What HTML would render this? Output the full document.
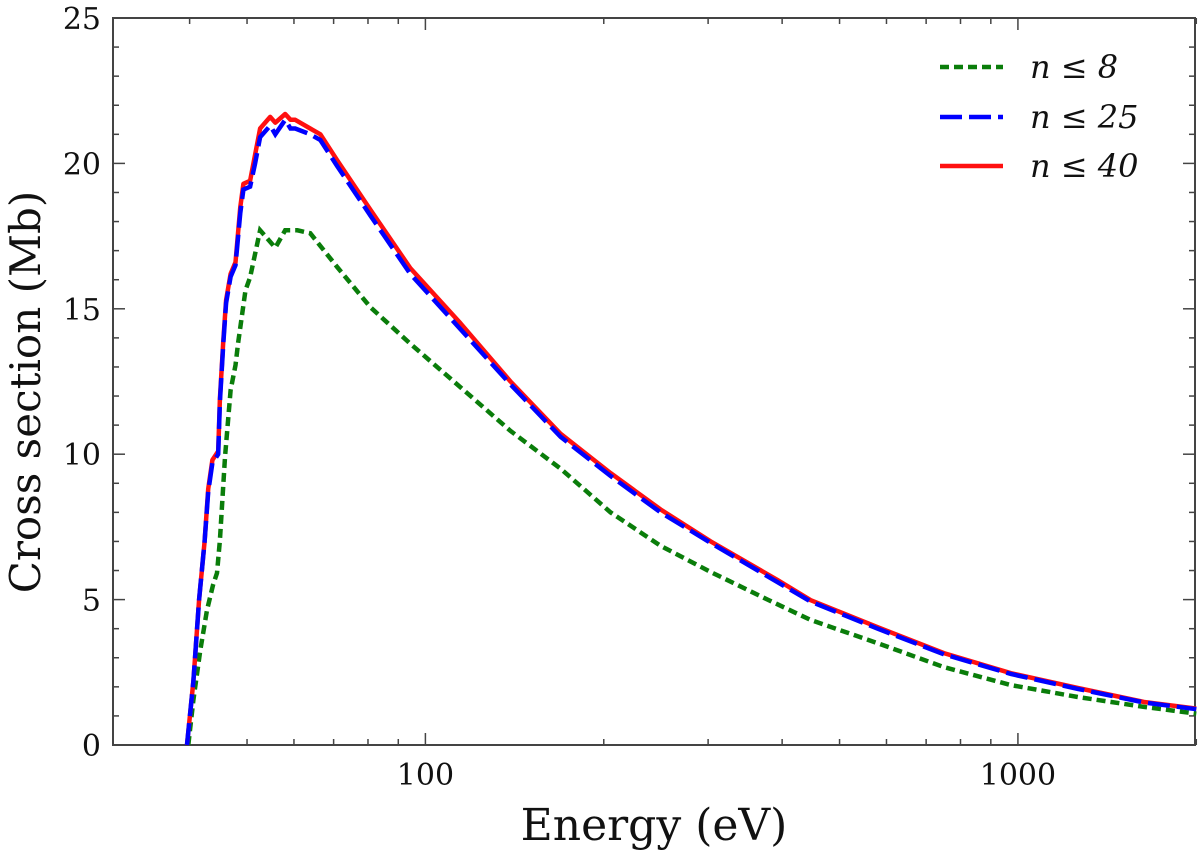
<!DOCTYPE html>
<html><head><meta charset="utf-8"><style>
html,body{margin:0;padding:0;background:#fff;}
svg text{font-family:"DejaVu Serif","Liberation Serif",serif;fill:#111;}
</style></head><body>
<svg id="chart" width="1200" height="852" viewBox="0 0 1200 852" xmlns="http://www.w3.org/2000/svg">
<g id="axes"></g><g id="series"></g><g id="legend"></g>
</svg>
<script>
const energyRed=[39.6,40.6,41.5,42.4,43.0,43.7,44.7,45.0,45.6,46.1,46.9,47.8,48.7,49.3,50.6,51.6,52.6,54.7,55.8,58.0,59.2,60.3,63.9,66.5,71.0,80.8,94.3,114.6,139.2,169.1,205.4,249.4,303,393,447,580,750,973,1262,1633,2000];
const sigma40=[0,2.2,5.0,7.0,8.8,9.8,10.1,11.9,13.9,15.3,16.2,16.6,18.5,19.3,19.4,20.3,21.2,21.6,21.4,21.7,21.5,21.5,21.2,21.0,20.1,18.4,16.4,14.5,12.5,10.7,9.35,8.1,7.0,5.67,4.98,4.05,3.16,2.47,1.96,1.48,1.25];
const sigma25=[0,2.2,5.0,7.0,8.7,9.7,10.0,11.8,13.8,15.2,16.1,16.5,18.3,19.1,19.2,20.0,20.9,21.3,21.0,21.5,21.2,21.2,21.0,20.8,19.9,18.2,16.2,14.3,12.4,10.6,9.25,8.0,6.95,5.6,4.93,4.0,3.12,2.44,1.93,1.46,1.23];
const energyGreen=[39.8,40.6,41.7,42.8,43.8,44.5,45.0,45.9,46.9,47.8,48.3,49.7,50.6,52.6,55.8,58.0,60.8,63.9,71.0,80.8,94.3,114.6,139.2,169.1,205.4,249.4,303,378,447,580,750,973,1262,1633,2000];
const sigma8=[0,1.55,3.26,4.64,5.5,5.91,7.04,9.9,12.2,13.06,13.82,15.64,16.08,17.7,17.1,17.7,17.7,17.6,16.43,15.05,13.8,12.3,10.8,9.5,8.0,6.85,5.95,5.0,4.3,3.5,2.68,2.06,1.65,1.31,1.08];
const yTicks=[0,5,10,15,20,25];
const xTickLabels=[100,1000];
const xMinorTicks=[40,50,60,70,80,90,200,300,400,500,600,700,800,900,2000];

const L=113,R=1195,T=18,B=745;
const X0=Math.log10(29.7),X1=Math.log10(1990);
function sx(e){return L+(Math.log10(e)-X0)/(X1-X0)*(R-L);}
function sy(v){return B-v/25*(B-T);}
const NS="http://www.w3.org/2000/svg";
function mk(tag,attrs,parent){const el=document.createElementNS(NS,tag);for(const k in attrs)el.setAttribute(k,attrs[k]);parent.appendChild(el);return el;}
const axes=document.getElementById('axes'),series=document.getElementById('series'),legend=document.getElementById('legend');

const frame=mk('rect',{x:L,y:T,width:R-L,height:B-T,fill:'none',stroke:'#444','stroke-width':2},axes);



for(let v=0;v<=25;v++){
  const len=(v%5===0)?12:6;
  mk('line',{x1:L,x2:L+len,y1:sy(v),y2:sy(v),stroke:'#444','stroke-width':1.5},axes);
  mk('line',{x1:R,x2:R-len,y1:sy(v),y2:sy(v),stroke:'#444','stroke-width':1.5},axes);
}
yTicks.forEach(v=>{
  const t=mk('text',{x:L-12,y:sy(v)+11,'text-anchor':'end','font-size':30},axes);
  t.textContent=v;
  
  
});
xMinorTicks.forEach(e=>{
  mk('line',{x1:sx(e),x2:sx(e),y1:B,y2:B-6,stroke:'#444','stroke-width':1.5},axes);
  mk('line',{x1:sx(e),x2:sx(e),y1:T,y2:T+6,stroke:'#444','stroke-width':1.5},axes);
});
xTickLabels.forEach(e=>{
  mk('line',{x1:sx(e),x2:sx(e),y1:B,y2:B-12,stroke:'#444','stroke-width':1.5},axes);
  mk('line',{x1:sx(e),x2:sx(e),y1:T,y2:T+12,stroke:'#444','stroke-width':1.5},axes);
  const t=mk('text',{x:sx(e),y:B+40,'text-anchor':'middle','font-size':30},axes);
  t.textContent=e;
  
  
});
const xt=mk('text',{x:654,y:840,'text-anchor':'middle','font-size':44},axes);
xt.textContent='Energy (eV)';


const yt=mk('text',{x:0,y:0,'text-anchor':'middle','font-size':42,transform:'translate(40,392) rotate(-90)'},axes);
yt.textContent='Cross section (Mb)';



function pts(E,S){return E.map((e,i)=>sx(e).toFixed(1)+','+sy(S[i]).toFixed(1)).join(' ');}
const g8=mk('polyline',{points:pts(energyGreen,sigma8),fill:'none',stroke:'#0a7d0a','stroke-width':4.5,'stroke-dasharray':'9 5'},series);


const r40=mk('polyline',{points:pts(energyRed,sigma40),fill:'none',stroke:'#ff1010','stroke-width':4.5,'stroke-linejoin':'round'},series);


const b25=mk('polyline',{points:pts(energyRed,sigma25),fill:'none',stroke:'#0000ff','stroke-width':4.5,'stroke-dasharray':'22 7'},series);



const leg=[['n ≤ 8','#0a7d0a','9 5',67],['n ≤ 25','#0000ff','22 7',117],['n ≤ 40','#ff1010','',166]];
leg.forEach(([lab,c,d,y])=>{
  const ln=mk('line',{x1:940,x2:1003,y1:y,y2:y,stroke:c,'stroke-width':4.5,'stroke-dasharray':d},legend);
  
  
  const t=mk('text',{x:1030,y:y+11,'font-size':32,'font-style':'italic'},legend);
  t.textContent=lab;
  
  
});
</script>
</body></html>
